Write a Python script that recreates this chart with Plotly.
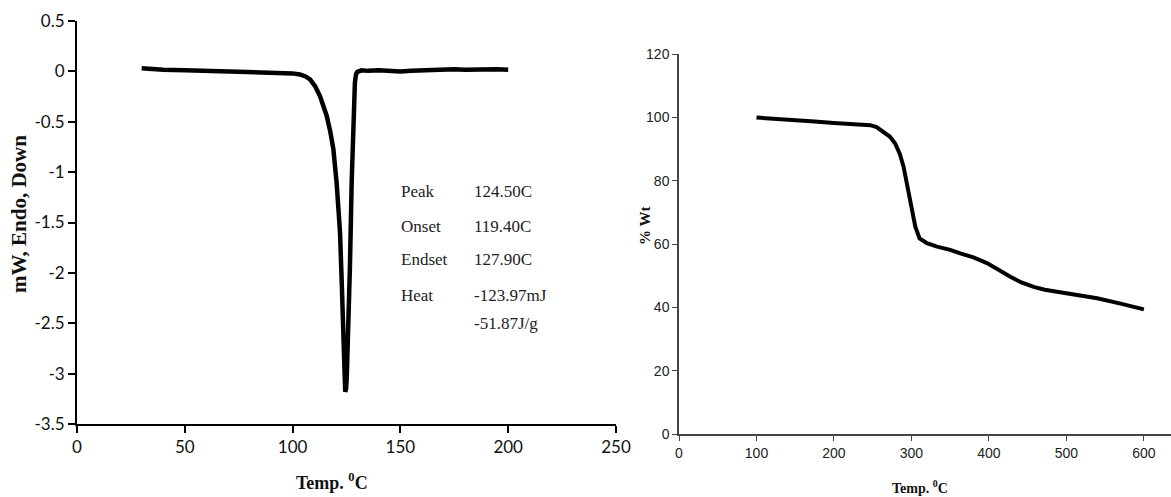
import plotly.graph_objects as go

# DSC data
dsc_temp = [30, 35, 40, 50, 60, 70, 80, 90, 95, 100, 103.4, 106, 108.1, 110.5, 112.7, 114.5,
            115.8, 117.5, 118.9, 120.4, 121.2, 122.0, 122.8, 123.5, 124.0, 124.4, 124.8, 125.1,
            125.8, 126.6, 127.4, 128.2, 128.9, 129.4, 130, 132, 135, 140, 145, 150, 155, 160,
            165, 170, 175, 180, 185, 190, 195, 200]
dsc_val = [0.03, 0.02, 0.015, 0.01, 0.005, 0.0, -0.005, -0.01, -0.015, -0.02, -0.03, -0.05,
           -0.08, -0.15, -0.245, -0.35, -0.44, -0.6, -0.77, -1.10, -1.33, -1.60, -2.10, -2.59,
           -2.92, -3.18, -3.15, -3.05, -2.59, -1.93, -1.10, -0.44, -0.11, -0.03, -0.005, 0.01,
           0.005, 0.01, 0.0, 0.0, 0.005, 0.01, 0.01, 0.015, 0.02, 0.015, 0.02, 0.025, 0.02, 0.015]

# TGA data
tga_temp = [100, 125, 150, 175, 200, 225, 246.8, 255, 264, 272, 279, 285, 289.8, 293, 296.3,
            300.6, 305, 310.5, 320, 333, 350, 363, 380, 397.5, 412, 427.7, 442, 457.8, 472,
            488, 510, 539.7, 570, 600]
tga_val = [100, 99.7, 99.3, 98.8, 98.3, 97.9, 97.6, 97.0, 95.5, 94, 91.8, 88.5, 84.5, 80.5, 76,
           69.8, 65.5, 61.8, 60.3, 59.2, 58.2, 57.1, 55.8, 54, 51.8, 49.7, 47.9, 46.5, 45.6,
           45.0, 44.2, 42.9, 41.2, 39.4]

dsc_yticks = [0.5, 0, -0.5, -1, -1.5, -2, -2.5, -3, -3.5]
dsc_yticktext = ["0.5", "0", "-0.5", "-1", "-1.5", "-2", "-2.5", "-3", "-3.5"]
dsc_xticks = [0, 50, 100, 150, 200, 250]
tga_yticks = [0, 20, 40, 60, 80, 100, 120]
tga_xticks = [0, 100, 200, 300, 400, 500, 600]

info_labels = ["Peak", "Onset", "Endset", "Heat", ""]
info_values = ["124.50C", "119.40C", "127.90C", "-123.97mJ", "-51.87J/g"]
info_y = [-1.19, -1.54, -1.87, -2.22, -2.50]

W, H = 1171, 497
fig = go.Figure()
fig.add_trace(go.Scatter(x=dsc_temp, y=dsc_val, mode="lines",
                         line=dict(color="black", width=4.5), xaxis="x", yaxis="y",
                         showlegend=False))
fig.add_trace(go.Scatter(x=tga_temp, y=tga_val, mode="lines",
                         line=dict(color="black", width=4), xaxis="x2", yaxis="y2",
                         showlegend=False))

tickfont_l = dict(family="Lato, Open Sans, sans-serif", size=17, color="#111")
tickfont_r = dict(family="Liberation Sans Narrow, Liberation Sans, sans-serif", size=14, color="#222")

fig.update_layout(
    width=W, height=H,
    margin=dict(l=0, r=0, t=0, b=0, autoexpand=False),
    paper_bgcolor="white", plot_bgcolor="white",
    xaxis=dict(domain=[77 / W, 616 / W], range=[0, 250], tickvals=dsc_xticks,
               ticktext=[str(v) for v in dsc_xticks],
               showline=True, linecolor="black", linewidth=2, ticks="outside", ticklen=7,
               tickwidth=1.5, tickcolor="black", showgrid=False, zeroline=False,
               tickfont=tickfont_l, anchor="y", automargin=False),
    yaxis=dict(domain=[1 - 424 / H, 1 - 21 / H], range=[-3.5, 0.5], tickvals=dsc_yticks,
               ticktext=dsc_yticktext,
               showline=True, linecolor="black", linewidth=2, ticks="outside", ticklen=7,
               tickwidth=1.5, tickcolor="black", showgrid=False, zeroline=False,
               tickfont=tickfont_l, anchor="x", automargin=False),
    xaxis2=dict(domain=[679 / W, 1.0], range=[0, 635], tickvals=tga_xticks,
                ticktext=[str(v) for v in tga_xticks],
                showline=True, linecolor="#444", linewidth=1.5, ticks="outside", ticklen=5,
                tickwidth=1.2, tickcolor="#444", showgrid=False, zeroline=False,
                tickfont=tickfont_r, anchor="y2", automargin=False),
    yaxis2=dict(domain=[1 - 434 / H, 1 - 54.3 / H], range=[0, 120], tickvals=tga_yticks,
                ticktext=[str(v) for v in tga_yticks],
                showline=True, linecolor="#444", linewidth=1.5, ticks="outside", ticklen=5,
                tickwidth=1.2, tickcolor="#444", showgrid=False, zeroline=False,
                tickfont=tickfont_r, anchor="x2", automargin=False),
)

serif = "Liberation Serif, Times New Roman, serif"
ann = []
ann.append(dict(text="<b>mW, Endo, Down</b>", x=19 / W, y=1 - 214 / H, xref="paper", yref="paper",
                showarrow=False, textangle=-90, font=dict(family=serif, size=21, color="#111"),
                xanchor="center", yanchor="middle"))
ann.append(dict(text="<b>Temp. <sup>0</sup>C</b>", x=332 / W, y=1 - 481 / H, xref="paper", yref="paper",
                showarrow=False, font=dict(family=serif, size=18, color="#111"),
                xanchor="center", yanchor="middle"))
ann.append(dict(text="<b>% Wt</b>", x=645 / W, y=1 - 226 / H, xref="paper", yref="paper",
                showarrow=False, textangle=-90, font=dict(family=serif, size=15, color="#111"),
                xanchor="center", yanchor="middle"))
ann.append(dict(text="<b>Temp. <sup>0</sup>C</b>", x=920 / W, y=1 - 487 / H, xref="paper", yref="paper",
                showarrow=False, font=dict(family=serif, size=14, color="#111"),
                xanchor="center", yanchor="middle"))
for lab, val, yy in zip(info_labels, info_values, info_y):
    if lab:
        ann.append(dict(text=lab, x=149.4, y=yy, xref="x", yref="y", showarrow=False,
                        xanchor="left", yanchor="middle",
                        font=dict(family=serif, size=17, color="#222")))
    ann.append(dict(text=val, x=183.0, y=yy, xref="x", yref="y", showarrow=False,
                    xanchor="left", yanchor="middle",
                    font=dict(family=serif, size=17, color="#222")))
fig.update_layout(annotations=ann)

fig.write_html("out.html", config={"displayModeBar": False},
               post_script="document.body.style.margin='0';document.body.style.overflow='hidden';")
